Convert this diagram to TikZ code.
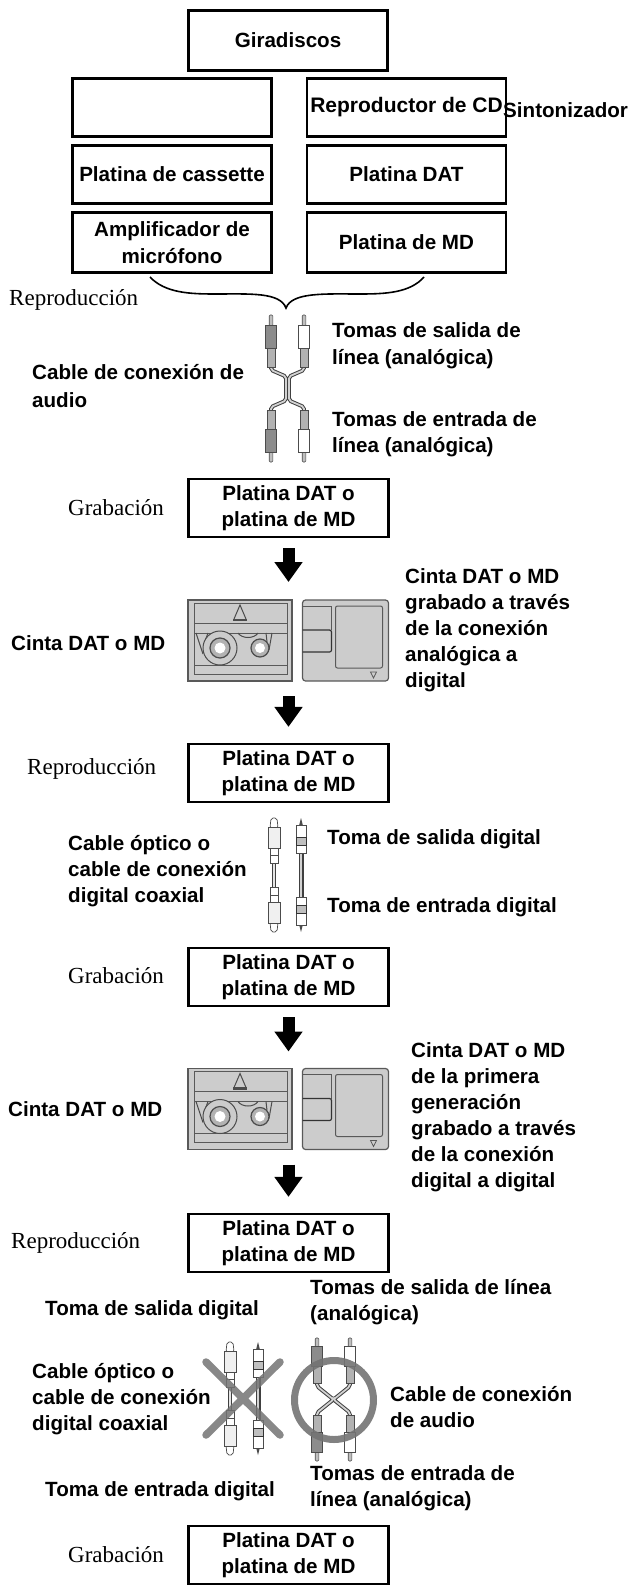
\documentclass[tikz,border=0pt]{standalone}
\usepackage{fontspec}
\setmainfont{Liberation Sans}
\newfontfamily\serifcap{Liberation Serif}
\usetikzlibrary{positioning,arrows.meta}
\tikzset{
    devicebox/.style={draw, line width=2.2pt, align=center, inner sep=0pt, minimum width=199pt, minimum height=58pt, font=\bfseries\fontsize{20.6}{26}\selectfont},
    recbox/.style={devicebox, minimum width=200pt},
    label/.style={anchor=west, align=left, inner sep=0pt, font=\bfseries\fontsize{20.6}{#1}\selectfont},
    label/.default=26,
    modelabel/.style={anchor=west, inner sep=0pt, font=\serifcap\fontsize{23}{26}\selectfont},
    bigarrow/.style={line width=12pt, -{Triangle[width=27pt,length=20pt]}},
    cintaspot/.style={minimum width=201pt, minimum height=81pt, inner sep=0pt, outer sep=0pt},
    cassette/.pic={
      \draw[gray!70!black, line width=1.1pt, fill=gray!40] (0,0) rectangle (104,81);
      \draw[gray!70!black, line width=1pt] (6,3) rectangle (99,74);
      \draw[gray!70!black, line width=1pt] (6,23) -- (99,23) (6,33) -- (99,33) (6,65) -- (99,65);
      \draw[gray!60!black, line width=1pt] (46,19) -- (52,5) -- (58,19);
      \draw[gray!60!black, line width=2.2pt] (45,20) -- (59,20);
      \draw[gray!60!black, line width=1pt] (8,33) -- (15,54) (20,33) -- (16,44) (84,33) -- (81,50) (78,33) -- (79,42);
      \draw[gray!60!black, line width=1pt] (50,33) .. controls (54,39) and (66,39) .. (70,33);
      \draw[gray!60!black, line width=1pt, fill=gray!40] (32,48) circle (17);
      \draw[gray!60!black, line width=1.2pt, fill=gray!60] (32,48) circle (10);
      \fill[white] (32,48) circle (5.5);
      \draw[gray!60!black, line width=1.2pt, fill=gray!60] (72,48) circle (9);
      \fill[white] (72,48) circle (5);
    },
    minidisc/.pic={
      \draw[gray!70!black, line width=1.2pt, fill=gray!40, rounded corners=3pt] (0,0) rectangle (86,81);
      \draw[gray!70!black, line width=1pt, rounded corners=2pt] (33,6) rectangle (80,68);
      \draw[gray!70!black, line width=1pt] (0,6) -- (29,6) -- (29,30);
      \draw[black!80, line width=1.2pt, rounded corners=2pt] (0,30) -- (29,30) -- (29,52) -- (0,52);
      \draw[gray!70!black, line width=.8pt] (68,72) -- (74,72) -- (71,78) -- cycle;
    },
    rcaplug/.pic={
      \draw[line width=.6pt, gray!60!black, fill=gray!50, rounded corners=1pt] (-1.8,0) rectangle (1.8,11);
      \draw[line width=.7pt, gray!60!black, fill=#1] (-5.8,10) rectangle (5.8,33);
      \draw[line width=.7pt, gray!60!black, fill=gray!60] (-4,33) rectangle (4,52);
    },
    optplug/.pic={
      \draw[line width=.7pt, gray!60!black, fill=white, rounded corners=2pt] (-3,0) -- (3,0) -- (4,10) -- (-4,10) -- cycle;
      \draw[line width=.7pt, gray!60!black, fill=gray!12] (-6,9) rectangle (6,30);
      \draw[line width=.7pt, gray!60!black, fill=white] (-4,30) rectangle (4,45);
      \draw[line width=.8pt, gray!60!black] (-4,37) -- (4,37);
    },
    coaxplug/.pic={
      \fill[black!70] (0,0) -- (1.8,7) -- (-1.8,7) -- cycle;
      \draw[line width=.7pt, gray!60!black, fill=white] (-5,7) rectangle (5,35);
      \draw[line width=1pt, black!80, fill=gray!50] (-5,19) rectangle (5,27);
    },
    cablewire/.style={line width=3.8pt, gray!50!black, rounded corners=2pt},
    cablecore/.style={line width=1.8pt, gray!35, rounded corners=2pt},
}
\newcommand{\audiocable}[7]{%
  % x left, x right, y top, y bottom, plug scale, half length of the twisted part, gap
  \pgfmathsetmacro{\xmid}{(#1+#2)/2}
  \pgfmathsetmacro{\ymid}{(#3+#4)/2}
  \pgfmathsetmacro{\plugend}{52*#5}
  \foreach \sty in {cablewire,cablecore}
  \draw[\sty] (#1,#3+\plugend) -- (#1,#3+\plugend+3) -- (\xmid-#7,\ymid-#6) -- (\xmid-#7,\ymid+#6) -- (#1,#4-\plugend-3) -- (#1,#4-\plugend)
    (#2,#3+\plugend) -- (#2,#3+\plugend+3) -- (\xmid+#7,\ymid-#6) -- (\xmid+#7,\ymid+#6) -- (#2,#4-\plugend-3) -- (#2,#4-\plugend);
  \pic[yscale=#5] at (#1,#3) {rcaplug=gray!90};
  \pic[yscale=#5] at (#2,#3) {rcaplug=white};
  \pic[yscale=-#5] at (#1,#4) {rcaplug=gray!90};
  \pic[yscale=-#5] at (#2,#4) {rcaplug=white};
}
\newcommand{\digitalcable}[4]{%
  \draw[line width=3.6pt, gray!50!black] (#1,#3+40) -- (#1,#4-40);
  \draw[line width=1.6pt, gray!20] (#1,#3+40) -- (#1,#4-40);
  \draw[line width=5pt, gray!50!black] (#2,#3+30) -- (#2,#4-30);
  \draw[line width=2.6pt, gray!35] (#2,#3+30) -- (#2,#4-30);
  \pic at (#1,#3) {optplug};
  \pic at (#2,#3) {coaxplug};
  \pic[yscale=-1] at (#1,#4) {optplug};
  \pic[yscale=-1] at (#2,#4) {coaxplug};
}
\begin{document}
\begin{tikzpicture}[x=1pt,y=-1pt]
      \useasboundingbox (0,0) rectangle (628,1589);

      % top group of sources
      \node[devicebox, minimum height=60pt] (giradiscos) at (288,40.5) {Giradiscos};
      \node[devicebox] (vacio) at (172,107.5) {};
      \node[devicebox, font=\bfseries\fontsize{21}{26}\selectfont] (reproductor) at (406.5,107.5) {\raisebox{-2pt}{Reproductor de CD}};
      \node[label] (sintonizador) at (503,110) {Sintonizador};
      \node[devicebox] (cassette) at (172,174.5) {Platina de cassette};
      \node[devicebox] (datuno) at (406.5,174.5) {Platina DAT};
      \node[devicebox, minimum height=60pt] (amplificador) at (172,242.5) {\raisebox{-2pt}{\shortstack{Amplificador de\\[5pt]micrófono}}};
      \node[devicebox, minimum height=60pt] (mduno) at (406.5,242.5) {Platina de MD};
      \draw[line width=1.6pt] (150,277) .. controls (165,293) and (190,294) .. (215,294)
        .. controls (250,294) and (280,292) .. (286,308)
        .. controls (292,292) and (325,294) .. (360,294)
        .. controls (385,294) and (410,293) .. (424,277);
      \node[modelabel] (repuno) at (9,300) {Reproducción};

      \audiocable{271}{304}{315}{462}{1}{12}{1.5}
      \node[label=27] (salidauno) at (332,345.5) {Tomas de salida de\\línea (analógica)};
      \node[label=28] (cableuno) at (32,386) {Cable de conexión de\\audio};
      \node[label] (entradauno) at (332,434.5) {Tomas de entrada de\\línea (analógica)};

      \node[modelabel] (grabuno) at (68,508) {Grabación};
      \node[recbox] (boxuno) at (288.5,508) {Platina DAT o\\platina de MD};
      \node[cintaspot] (cintauno) at (288.5,640.5) {};
      \pic at (cintauno.north west) {cassette};
      \pic at ([xshift=114.5pt]cintauno.north west) {minidisc};
      \node[label] (cintalabeluno) at (11,643) {Cinta DAT o MD};
      \node[label] (grabadouno) at (405,630.5) {Cinta DAT o MD\\grabado a través\\de la conexión\\analógica a\\digital};
      \node[recbox] (boxdos) at (288.5,773) {Platina DAT o\\platina de MD};
      \draw[bigarrow, shorten <=10pt, shorten >=18pt] (boxuno) -- (cintauno);
      \draw[bigarrow, shorten <=15pt, shorten >=16pt] (cintauno) -- (boxdos);
      \node[modelabel] (repdos) at (27,769) {Reproducción};

      \digitalcable{274}{301}{818}{932}
      \node[label] (opticouno) at (68,871) {Cable óptico o\\cable de conexión\\digital coaxial};
      \node[label] (salidados) at (327,839) {Toma de salida digital};
      \node[label] (entradados) at (327,907) {Toma de entrada digital};

      \node[modelabel] (grabdos) at (68,976) {Grabación};
      \node[recbox] (boxtres) at (288.5,977) {Platina DAT o\\platina de MD};
      \node[cintaspot] (cintados) at (288.5,1109) {};
      \pic at (cintados.north west) {cassette};
      \pic at ([xshift=114.5pt]cintados.north west) {minidisc};
      \node[label] (cintalabeldos) at (8,1109) {Cinta DAT o MD};
      \node[label] (grabadodos) at (411,1117.5) {Cinta DAT o MD\\de la primera\\generación\\grabado a través\\de la conexión\\digital a digital};
      \node[recbox] (boxcuatro) at (288.5,1243) {Platina DAT o\\platina de MD};
      \draw[bigarrow, shorten <=10pt, shorten >=17pt] (boxtres) -- (cintados);
      \draw[bigarrow, shorten <=15pt, shorten >=16pt] (cintados) -- (boxcuatro);
      \node[modelabel] (reptres) at (11,1243) {Reproducción};

      \node[label] (salidatres) at (45,1310) {Toma de salida digital};
      \node[label] (salidacuatro) at (310,1302) {Tomas de salida de línea\\(analógica)};
      \node[label] (opticodos) at (32,1399) {Cable óptico o\\cable de conexión\\digital coaxial};
      \digitalcable{230}{258}{1342}{1455}
      \draw[line width=7.5pt, black!55, opacity=.85, line cap=round] (206,1362) -- (280,1435) (280,1362) -- (206,1435);
      \audiocable{317}{350}{1338}{1461}{.87}{0}{0}
      \draw[line width=7pt, black!55, opacity=.9] (334,1400) circle (39.5);
      \node[label] (cabledos) at (390,1407) {Cable de conexión\\de audio};
      \node[label] (entradatres) at (45,1491) {Toma de entrada digital};
      \node[label] (entradacuatro) at (310,1488) {Tomas de entrada de\\línea (analógica)};
      \node[recbox] (boxcinco) at (288.5,1555) {Platina DAT o\\platina de MD};
      \node[modelabel] (grabtres) at (68,1555) {Grabación};
\end{tikzpicture}
\end{document}
